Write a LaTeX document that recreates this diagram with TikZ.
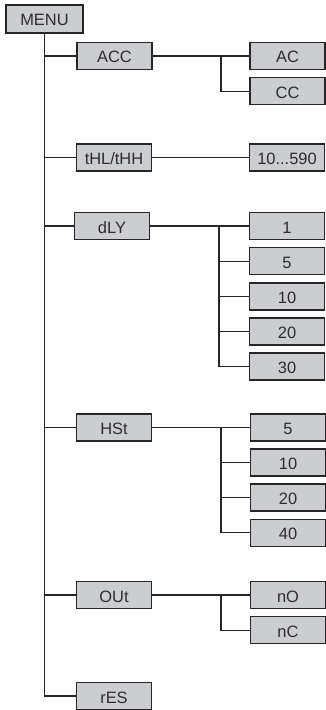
\documentclass[tikz,border=0pt]{standalone}
\usepackage{fontspec}
\setmainfont{Liberation Sans}
\usetikzlibrary{positioning}
\definecolor{boxgray}{RGB}{204,205,208}
\definecolor{linegray}{RGB}{38,38,38}
\definecolor{textgray}{RGB}{45,45,45}

\begin{document}
\begin{tikzpicture}[
    x=1bp, y=-1bp,
    node distance=6.5bp,
    item/.style={
        rectangle,
        draw=linegray,
        fill=boxgray,
        line width=1.6bp,
        minimum width=75bp,
        minimum height=27bp,
        inner sep=0pt,
        text height=14bp,
        text depth=0pt,
        text=textgray,
        font=\fontsize{16.5}{18}\selectfont
    },
    link/.style={
        draw=linegray,
        line width=1.1bp
    }
]
\useasboundingbox (0,0) rectangle (325,710);

% Main menu
\node[item, minimum width=77bp, minimum height=28bp] (menu) at (44.5,19) {MENU};

% First level
\node[item] (acc) at (114.5,56) {ACC};
\node[item] (thl) at (114,157.5) {tHL/tHH};
\node[item] (dly) at (112,226) {dLY};
\node[item] (hst) at (114,427.5) {HSt};
\node[item] (out) at (114,595) {OUt};
\node[item] (res) at (114,696) {rES};

% Second level
\node[item] (ac) at (287.5,56) {AC};
\node[item, below=of ac] (cc) {CC};

\node[item] (range) at (287,157.5) {10...590};

\node[item] (dly1) at (287,226) {1};
\node[item, below=of dly1] (dly5) {5};
\node[item, below=of dly5] (dly10) {10};
\node[item, below=of dly10] (dly20) {20};
\node[item, below=of dly20] (dly30) {30};

\node[item] (hst5) at (288,427.5) {5};
\node[item, below=of hst5] (hst10) {10};
\node[item, below=of hst10] (hst20) {20};
\node[item, below=of hst20] (hst40) {40};

\node[item] (no) at (288,595) {nO};
\node[item, below=of no] (nc) {nC};

% Trunk
\draw[link] (menu.south) |- (res.west);
\draw[link] (menu.south |- acc.west) -- (acc.west);
\draw[link] (menu.south |- thl.west) -- (thl.west);
\draw[link] (menu.south |- dly.west) -- (dly.west);
\draw[link] (menu.south |- hst.west) -- (hst.west);
\draw[link] (menu.south |- out.west) -- (out.west);

% Branch points
\coordinate (accsplit) at (221,56);
\coordinate (dlysplit) at (219,226);
\coordinate (hstsplit) at (221,427.5);
\coordinate (outsplit) at (221,595);

% ACC
\draw[link] (acc.east) -- (ac.west);
\draw[link] (accsplit) |- (cc.west);

% tHL/tHH
\draw[link] (thl.east) -- (range.west);

% dLY
\draw[link] (dly.east) -- (dly1.west);
\draw[link] (dlysplit) |- (dly30.west);
\draw[link] (dlysplit |- dly5.west) -- (dly5.west);
\draw[link] (dlysplit |- dly10.west) -- (dly10.west);
\draw[link] (dlysplit |- dly20.west) -- (dly20.west);

% HSt
\draw[link] (hst.east) -- (hst5.west);
\draw[link] (hstsplit) |- (hst40.west);
\draw[link] (hstsplit |- hst10.west) -- (hst10.west);
\draw[link] (hstsplit |- hst20.west) -- (hst20.west);

% OUt
\draw[link] (out.east) -- (no.west);
\draw[link] (outsplit) |- (nc.west);

\end{tikzpicture}
\end{document}
